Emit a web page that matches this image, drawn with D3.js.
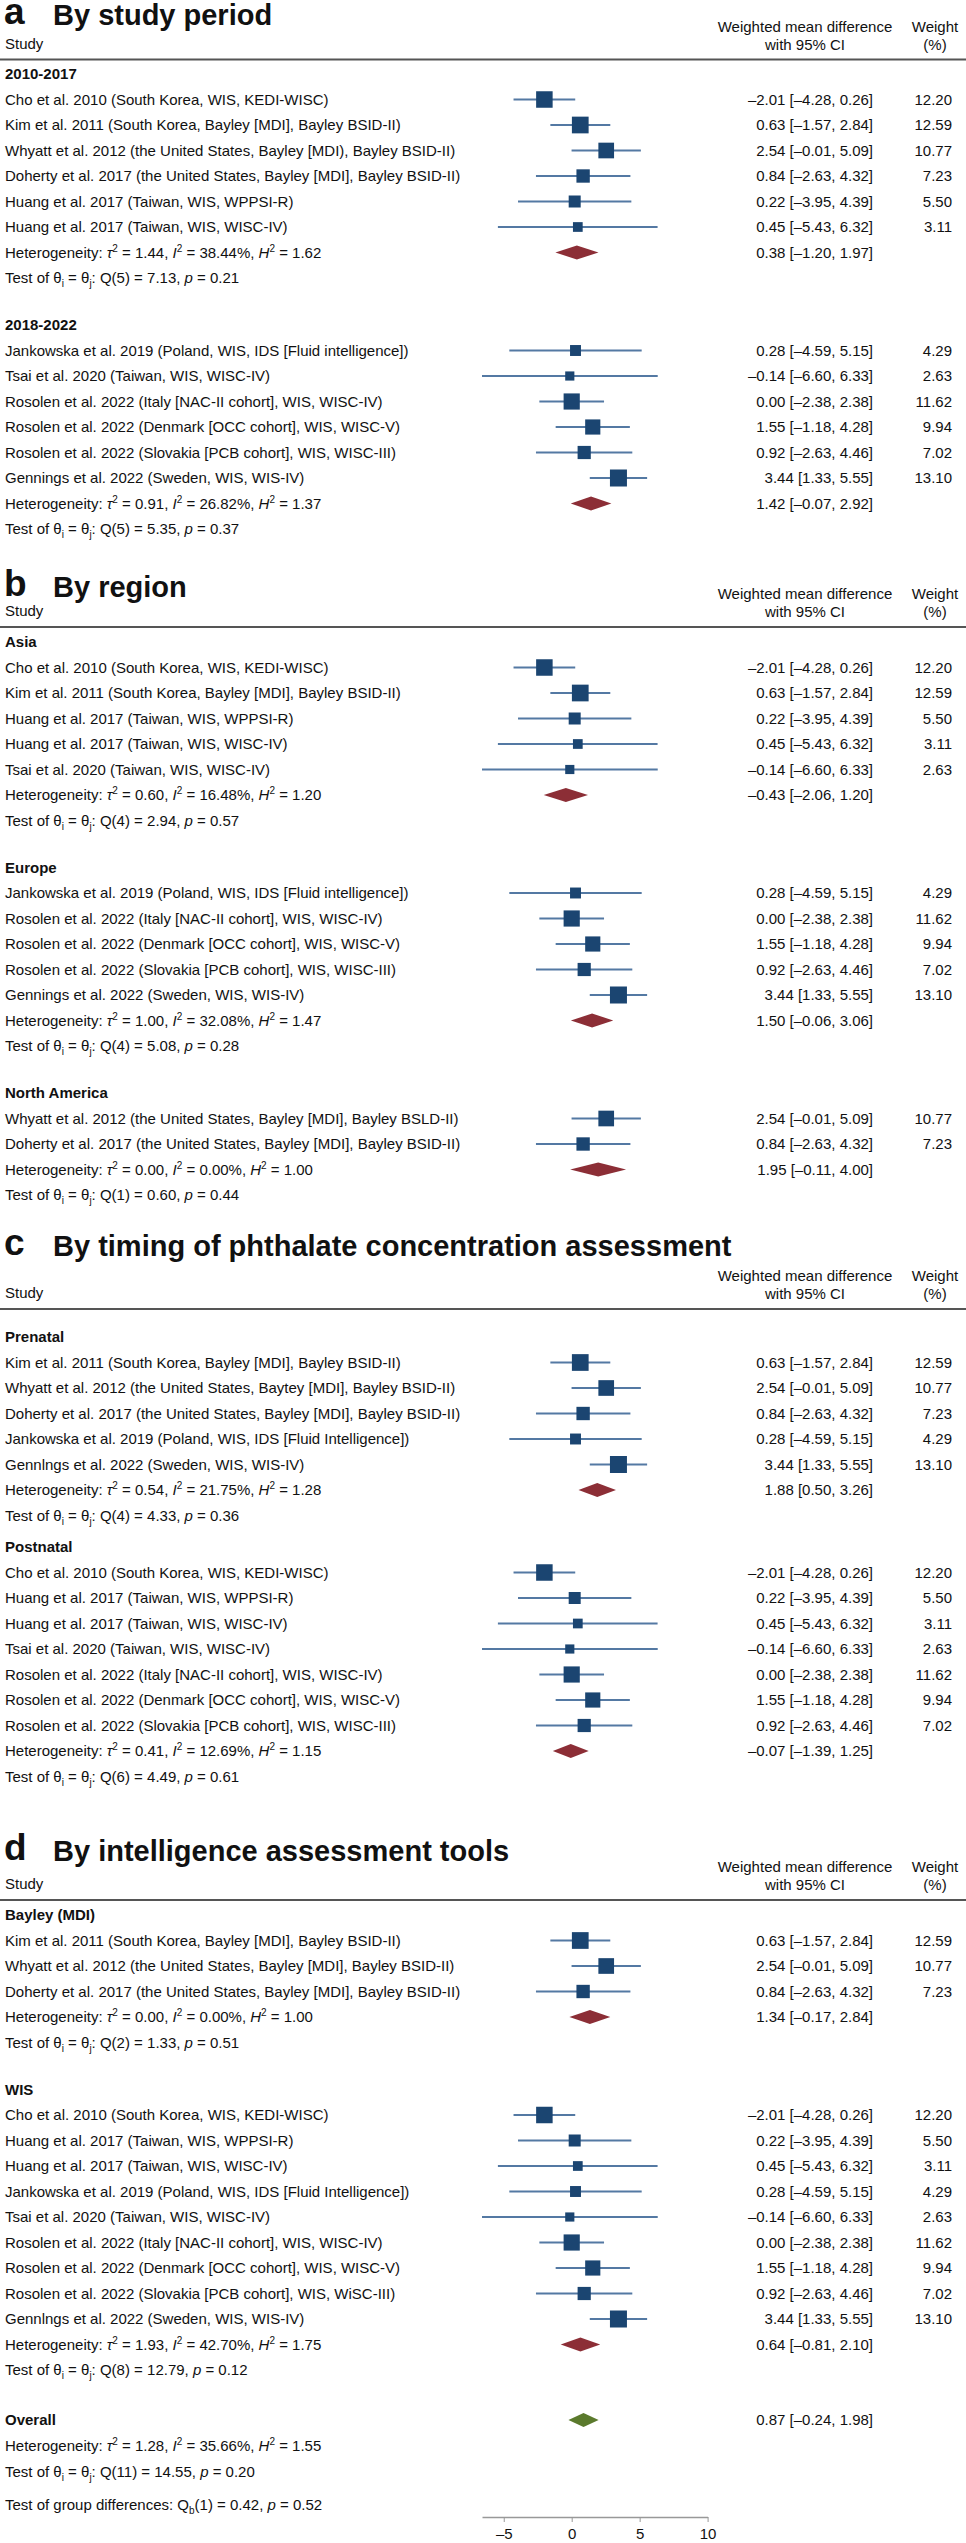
<!DOCTYPE html>
<html>
<head>
<meta charset="utf-8">
<script src="https://cdn.jsdelivr.net/npm/d3@7"></script>
<style>
  body { margin: 0; background: #fff; }
  text { font-family: "Liberation Sans", Arial, Helvetica, sans-serif; fill: #111; }
</style>
</head>
<body>
<div id="chart"></div>
<script>
// study level data (same order everywhere)
const studyLabels = [
  "Cho et al. 2010 (South Korea, WIS, KEDI-WISC)",
  "Kim et al. 2011 (South Korea, Bayley [MDI], Bayley BSID-II)",
  "Whyatt et al. 2012 (the United States, Bayley [MDI], Bayley BSID-II)",
  "Doherty et al. 2017 (the United States, Bayley [MDI], Bayley BSID-II)",
  "Huang et al. 2017 (Taiwan, WIS, WPPSI-R)",
  "Huang et al. 2017 (Taiwan, WIS, WISC-IV)",
  "Jankowska et al. 2019 (Poland, WIS, IDS [Fluid intelligence])",
  "Tsai et al. 2020 (Taiwan, WIS, WISC-IV)",
  "Rosolen et al. 2022 (Italy [NAC-II cohort], WIS, WISC-IV)",
  "Rosolen et al. 2022 (Denmark [OCC cohort], WIS, WISC-V)",
  "Rosolen et al. 2022 (Slovakia [PCB cohort], WIS, WISC-III)",
  "Gennings et al. 2022 (Sweden, WIS, WIS-IV)"
];
const wmd = [-2.01, 0.63, 2.54, 0.84, 0.22, 0.45, 0.28, -0.14, 0.00, 1.55, 0.92, 3.44];
const ciLow = [-4.28, -1.57, -0.01, -2.63, -3.95, -5.43, -4.59, -6.60, -2.38, -1.18, -2.63, 1.33];
const ciHigh = [0.26, 2.84, 5.09, 4.32, 4.39, 6.32, 5.15, 6.33, 2.38, 4.28, 4.46, 5.55];
const weights = [12.20, 12.59, 10.77, 7.23, 5.50, 3.11, 4.29, 2.63, 11.62, 9.94, 7.02, 13.10];

// labels as printed in each panel (the figure has a few variants)
const labelVariants = [
  { 2: "Whyatt et al. 2012 (the United States, Bayley [MDI), Bayley BSID-II)" },
  { 2: "Whyatt et al. 2012 (the United States, Bayley [MDI], Bayley BSLD-II)" },
  { 2: "Whyatt et al. 2012 (the United States, Baytey [MDI], Bayley BSID-II)",
    6: "Jankowska et al. 2019 (Poland, WIS, IDS [Fluid Intelligence])",
    11: "Gennlngs et al. 2022 (Sweden, WIS, WIS-IV)" },
  { 6: "Jankowska et al. 2019 (Poland, WIS, IDS [Fluid Intelligence])",
    10: "Rosolen et al. 2022 (Slovakia [PCB cohort], WIS, WiSC-III)",
    11: "Gennlngs et al. 2022 (Sweden, WIS, WIS-IV)" }
];

// panels and subgroups
const panelLetters = ["a", "b", "c", "d"];
const panelTitles = ["By study period", "By region",
  "By timing of phthalate concentration assessment", "By intelligence assessment tools"];
const groupNames = [["2010-2017", "2018-2022"], ["Asia", "Europe", "North America"],
  ["Prenatal", "Postnatal"], ["Bayley (MDI)", "WIS"]];
const groupMembers = [
  [[0, 1, 2, 3, 4, 5], [6, 7, 8, 9, 10, 11]],
  [[0, 1, 4, 5, 7], [6, 8, 9, 10, 11], [2, 3]],
  [[1, 2, 3, 6, 11], [0, 4, 5, 7, 8, 9, 10]],
  [[1, 2, 3], [0, 4, 5, 6, 7, 8, 9, 10, 11]]
];
const groupWmd = [[0.38, 1.42], [-0.43, 1.50, 1.95], [1.88, -0.07], [1.34, 0.64]];
const groupLow = [[-1.20, -0.07], [-2.06, -0.06, -0.11], [0.50, -1.39], [-0.17, -0.81]];
const groupHigh = [[1.97, 2.92], [1.20, 3.06, 4.00], [3.26, 1.25], [2.84, 2.10]];
const groupTau2 = [[1.44, 0.91], [0.60, 1.00, 0.00], [0.54, 0.41], [0.00, 1.93]];
const groupI2 = [[38.44, 26.82], [16.48, 32.08, 0.00], [21.75, 12.69], [0.00, 42.70]];
const groupH2 = [[1.62, 1.37], [1.20, 1.47, 1.00], [1.28, 1.15], [1.00, 1.75]];
const groupDf = [[5, 5], [4, 4, 1], [4, 6], [2, 8]];
const groupQ = [[7.13, 5.35], [2.94, 5.08, 0.60], [4.33, 4.49], [1.33, 12.79]];
const groupP = [[0.21, 0.37], [0.57, 0.28, 0.44], [0.36, 0.61], [0.51, 0.12]];

// overall (shown under panel d)
const overall = [0.87, -0.24, 1.98];
const overallHet = [1.28, 35.66, 1.55];
const overallTest = [11, 14.55, 0.20];
const groupDiffTest = [1, 0.42, 0.52];

const xTicks = [-5, 0, 5, 10];

// ---- layout ----
const width = 966, height = 2543;
const pitch = 25.5;
const layout = [
  { lineY: 59.5, titleY: 25, headPad: 14.5, gap: 47 },
  { lineY: 627, titleY: 597, headPad: 15, gap: 47 },
  { lineY: 1309, titleY: 1256, headPad: 28, gap: 31.5 },
  { lineY: 1900, titleY: 1861, headPad: 15, gap: 47 }
];
const colSq = "#1b4571", colCI = "#5479a3", colSub = "#8c2e36", colAll = "#5b7a2d";
const fs = 15;

const svg = d3.select("#chart").append("svg")
  .attr("width", width)
  .attr("height", height);

const x = d3.scaleLinear().domain([-6.6, 10]).range([482, 707.6]);
const size = d3.scaleSqrt().domain([0, 13.1]).range([2.8, 17]);

const fmt = (v) => (v < 0 ? "\u2013" : "") + Math.abs(v).toFixed(2);
const ciText = (e, lo, hi) => `${fmt(e)} [${fmt(lo)}, ${fmt(hi)}]`;

// text with italics / super- and subscripts
function rich(g, tx, ty, segs, bold) {
  const t = g.append("text").attr("x", tx).attr("y", ty).attr("font-size", fs);
  if (bold) t.attr("font-weight", "bold");
  let shift = 0;
  segs.forEach((s) => {
    const seg = typeof s === "string" ? { t: s } : s;
    const sp = t.append("tspan").text(seg.t);
    const target = seg.sup ? -6 : seg.sub ? 4 : 0;
    if (target !== shift) { sp.attr("dy", target - shift); shift = target; }
    if (seg.sup || seg.sub) sp.attr("font-size", 10);
    if (seg.i) sp.attr("font-style", "italic");
  });
  return t;
}
const hetSegs = (tau2, i2, h2) => [
  "Heterogeneity: ", { t: "\u03c4", i: true }, { t: "2", sup: true },
  ` = ${tau2.toFixed(2)}, `, { t: "I", i: true }, { t: "2", sup: true },
  ` = ${i2.toFixed(2)}%, `, { t: "H", i: true }, { t: "2", sup: true },
  ` = ${h2.toFixed(2)}`
];
const testSegs = (df, q, p) => [
  "Test of \u03b8", { t: "i", sub: true }, " = \u03b8", { t: "j", sub: true },
  `: Q(${df}) = ${q.toFixed(2)}, `, { t: "p", i: true }, ` = ${p.toFixed(2)}`
];

function diamond(g, e, lo, hi, y, fill) {
  const pts = [[x(lo), y], [x(e), y - 7], [x(hi), y], [x(e), y + 7]];
  g.append("path").attr("d", d3.line()(pts) + "Z").attr("fill", fill);
}

const valueText = (g, y, s) => g.append("text")
  .attr("x", 873).attr("y", y + 5).attr("text-anchor", "end")
  .attr("font-size", fs).text(s);

let lastY = 0;
panelTitles.forEach((title, pi) => {
  const L = layout[pi];
  const g = svg.append("g");

  g.append("text").attr("x", 4).attr("y", L.titleY - 1)
    .attr("font-size", 37).attr("font-weight", "bold").text(panelLetters[pi]);
  g.append("text").attr("x", 53).attr("y", L.titleY)
    .attr("font-size", 29).attr("font-weight", "bold").text(title);

  g.append("text").attr("x", 5).attr("y", L.lineY - 11).attr("font-size", fs).text("Study");
  [["Weighted mean difference", "with 95% CI", 805], ["Weight", "(%)", 935]].forEach(([a, b, cx]) => {
    g.append("text").attr("x", cx).attr("y", L.lineY - 28).attr("text-anchor", "middle")
      .attr("font-size", fs).text(a);
    g.append("text").attr("x", cx).attr("y", L.lineY - 10).attr("text-anchor", "middle")
      .attr("font-size", fs).text(b);
  });
  g.append("line").attr("x1", 0).attr("x2", width)
    .attr("y1", L.lineY).attr("y2", L.lineY)
    .attr("stroke", "#555").attr("stroke-width", 2);

  let y = L.lineY + L.headPad;
  groupNames[pi].forEach((name, gi) => {
    if (gi > 0) y += L.gap;
    rich(g, 5, y + 5, [name], true);

    groupMembers[pi][gi].forEach((si) => {
      y += pitch;
      const label = labelVariants[pi][si] || studyLabels[si];
      rich(g, 5, y + 5, [label]);
      g.append("line")
        .attr("x1", x(ciLow[si])).attr("x2", x(ciHigh[si]))
        .attr("y1", y).attr("y2", y)
        .attr("stroke", colCI).attr("stroke-width", 2);
      const s = size(weights[si]);
      g.append("rect")
        .attr("x", x(wmd[si]) - s / 2).attr("y", y - s / 2)
        .attr("width", s).attr("height", s)
        .attr("fill", colSq);
      valueText(g, y, ciText(wmd[si], ciLow[si], ciHigh[si]));
      g.append("text").attr("x", 952).attr("y", y + 5).attr("text-anchor", "end")
        .attr("font-size", fs).text(weights[si].toFixed(2));
    });

    y += pitch;
    rich(g, 5, y + 5, hetSegs(groupTau2[pi][gi], groupI2[pi][gi], groupH2[pi][gi]));
    diamond(g, groupWmd[pi][gi], groupLow[pi][gi], groupHigh[pi][gi], y, colSub);
    valueText(g, y, ciText(groupWmd[pi][gi], groupLow[pi][gi], groupHigh[pi][gi]));

    y += pitch;
    rich(g, 5, y + 5, testSegs(groupDf[pi][gi], groupQ[pi][gi], groupP[pi][gi]));
  });
  lastY = y;
});

// overall block under panel d
const go = svg.append("g");
let y = lastY + 50;
rich(go, 5, y + 5, ["Overall"], true);
diamond(go, overall[0], overall[1], overall[2], y, colAll);
valueText(go, y, ciText(overall[0], overall[1], overall[2]));
y += 26;
rich(go, 5, y + 5, hetSegs(overallHet[0], overallHet[1], overallHet[2]));
y += pitch;
rich(go, 5, y + 5, testSegs(overallTest[0], overallTest[1], overallTest[2]));
y += 33.5;
rich(go, 5, y + 5, ["Test of group differences: Q", { t: "b", sub: true },
  `(${groupDiffTest[0]}) = ${groupDiffTest[1].toFixed(2)}, `, { t: "p", i: true },
  ` = ${groupDiffTest[2].toFixed(2)}`]);

// x axis
const axis = svg.append("g")
  .attr("transform", `translate(0,${y + 12})`)
  .call(d3.axisBottom(x).tickValues(xTicks).tickSize(5).tickSizeOuter(0)
    .tickFormat((d) => (d < 0 ? "\u2013" : "") + Math.abs(d)));
axis.select(".domain").attr("stroke", "#999").attr("stroke-width", 1.5);
axis.selectAll(".tick line").attr("stroke", "#999");
axis.selectAll(".tick text")
  .attr("font-size", fs)
  .attr("font-family", "Liberation Sans, Arial, sans-serif")
  .attr("fill", "#111").attr("dy", "0.95em");
</script>
</body>
</html>
